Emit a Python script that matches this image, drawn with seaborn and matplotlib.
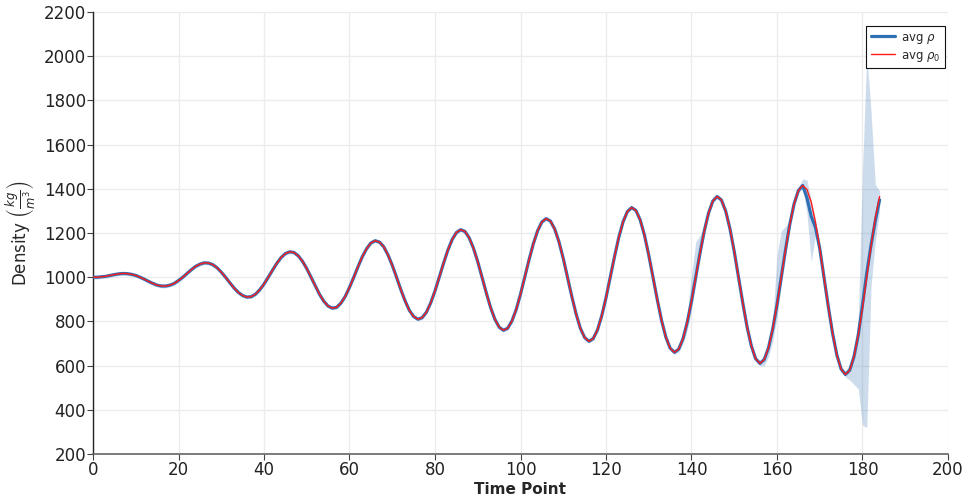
import numpy as np
import pandas as pd
import matplotlib
matplotlib.use("Agg")
import matplotlib.pyplot as plt
import seaborn as sns

# ---------------- data ----------------
time_points = list(range(0, 185))

avg_rho0 = [
    1000, 1000, 1002, 1004, 1008, 1012, 1015, 1017, 1016, 1013,
    1008, 1000, 991, 981, 972, 964, 960, 960, 964, 972,
    985, 1000, 1017, 1034, 1049, 1059, 1065, 1064, 1057, 1043,
    1023, 1000, 975, 951, 931, 917, 910, 912, 923, 943,
    969, 1000, 1032, 1063, 1089, 1107, 1115, 1112, 1097, 1072,
    1039, 1000, 960, 922, 891, 869, 860, 864, 883, 913,
    954, 1000, 1048, 1093, 1129, 1155, 1165, 1159, 1138, 1101,
    1054, 1000, 944, 893, 850, 822, 810, 817, 842, 884,
    938, 1000, 1063, 1122, 1170, 1202, 1215, 1207, 1178, 1131,
    1070, 1000, 929, 863, 810, 774, 760, 769, 802, 854,
    923, 1000, 1079, 1151, 1210, 1250, 1265, 1254, 1218, 1160,
    1085, 1000, 913, 834, 769, 727, 710, 722, 761, 825,
    907, 1000, 1094, 1181, 1251, 1297, 1315, 1302, 1259, 1190,
    1100, 1000, 898, 804, 729, 679, 660, 674, 721, 796,
    892, 1000, 1110, 1210, 1291, 1345, 1365, 1349, 1299, 1219,
    1116, 1000, 883, 775, 689, 631, 610, 627, 680, 766,
    876, 1000, 1125, 1240, 1332, 1392, 1415, 1397, 1340, 1248,
    1131, 1000, 867, 746, 648, 584, 560, 579, 640, 737,
    861, 1000, 1141, 1269, 1365,
]

avg_rho = [
    1000, 1000, 1002, 1004, 1008, 1012, 1015, 1017, 1016, 1013,
    1008, 1000, 991, 981, 972, 964, 960, 960, 964, 972,
    985, 1000, 1017, 1034, 1049, 1059, 1065, 1064, 1057, 1043,
    1023, 1000, 975, 951, 931, 917, 910, 912, 923, 943,
    969, 1000, 1032, 1063, 1089, 1107, 1115, 1112, 1097, 1072,
    1039, 1000, 960, 922, 891, 869, 860, 864, 883, 913,
    954, 1000, 1048, 1093, 1129, 1155, 1165, 1159, 1138, 1101,
    1054, 1000, 944, 893, 850, 822, 810, 817, 842, 884,
    938, 1000, 1063, 1122, 1170, 1202, 1215, 1207, 1178, 1131,
    1070, 1000, 929, 863, 810, 774, 760, 769, 802, 854,
    923, 1000, 1079, 1151, 1210, 1250, 1265, 1254, 1218, 1160,
    1085, 1000, 913, 834, 769, 727, 710, 722, 761, 825,
    907, 1000, 1094, 1181, 1251, 1297, 1315, 1302, 1259, 1190,
    1100, 1000, 898, 804, 729, 679, 660, 674, 721, 796,
    892, 1000, 1110, 1210, 1291, 1345, 1365, 1349, 1299, 1219,
    1116, 1000, 883, 775, 689, 631, 610, 627, 680, 766,
    876, 1000, 1125, 1240, 1332, 1392, 1415, 1360, 1275, 1225,
    1130, 1000, 867, 746, 648, 584, 560, 579, 640, 737,
    875, 1020, 1145, 1255, 1350,
]

# thin spread of the band over the calm part (t = 0 .. 135)
calm_spread = 8

# band bounds for t = 136 .. 184
tail_lower = [
    650, 662, 700, 760, 850, 975, 1095, 1198, 1282, 1337,
    1357, 1341, 1291, 1211, 1108, 992, 875, 767, 681, 623,
    598, 600, 640, 710, 820, 960, 1100, 1225, 1322, 1382,
    1400, 1290, 1070, 1190, 1110, 990, 858, 738, 640, 574,
    548, 535, 515, 495, 330, 320, 960, 1160, 1300,
]
tail_upper = [
    672, 690, 740, 830, 1010, 1160, 1190, 1225, 1302, 1355,
    1375, 1359, 1309, 1229, 1126, 1010, 893, 785, 699, 641,
    622, 645, 700, 800, 1100, 1210, 1230, 1258, 1345, 1405,
    1445, 1440, 1350, 1262, 1150, 1010, 877, 756, 658, 596,
    575, 600, 680, 800, 1480, 2010, 1750, 1420, 1390,
]

x_ticks = list(range(0, 201, 20))
y_ticks = list(range(200, 2201, 200))

# ---------------- build table ----------------
n_calm = len(time_points) - len(tail_lower)
band_lower = [v - calm_spread for v in avg_rho[:n_calm]] + tail_lower
band_upper = [v + calm_spread for v in avg_rho[:n_calm]] + tail_upper

df = pd.DataFrame({
    "t": time_points,
    "rho": avg_rho,
    "rho0": avg_rho0,
    "lo": band_lower,
    "hi": band_upper,
})

# ---------------- plot ----------------
sns.set_theme(style="white")
plt.rcParams["font.family"] = ["DejaVu Sans"]
plt.rcParams["mathtext.fontset"] = "dejavusans"

fig = plt.figure(figsize=(9.7, 5.04), dpi=100)
ax = fig.add_axes([93 / 970, 1 - 454 / 504, (948 - 93) / 970, (454 - 12) / 504])

blue = "#2f6fb3"
ax.fill_between(df["t"], df["lo"], df["hi"], color=blue, alpha=0.24,
                linewidth=0, zorder=1)
sns.lineplot(data=df, x="t", y="rho", ax=ax, color=blue, linewidth=2.3,
             label=r"avg $\rho$", zorder=3)
sns.lineplot(data=df, x="t", y="rho0", ax=ax, color="#ff1a1a", linewidth=1.0,
             label=r"avg $\rho_0$", zorder=4)

ax.set_xlim(0, 200)
ax.set_ylim(200, 2200)
ax.set_xticks(x_ticks)
ax.set_yticks(y_ticks)
ax.grid(True, color="#ececec", linewidth=1.0)
ax.set_axisbelow(True)

for side in ("top", "right"):
    ax.spines[side].set_visible(False)
ax.spines["left"].set_color("#222222")
ax.spines["bottom"].set_color("#666666")
ax.spines["left"].set_linewidth(1.0)
ax.spines["bottom"].set_linewidth(1.2)

ax.tick_params(axis="both", which="major", labelsize=12, length=4, width=0.8,
               color="#444444", labelcolor="#222222", pad=1, direction="out",
               bottom=True, left=True)

ax.set_xlabel("Time Point", fontsize=11, fontweight="bold", labelpad=2)
ax.set_ylabel(r"Density $\left(\frac{kg}{m^3}\right)$", fontsize=12, labelpad=4)

leg = ax.legend(loc="upper right", fontsize=8.5, frameon=True, fancybox=False,
                framealpha=1, edgecolor="#111111", borderpad=0.4,
                handlelength=2.0, handletextpad=0.5, labelspacing=0.25,
                bbox_to_anchor=(1.003, 0.982))
leg.get_frame().set_linewidth(0.8)

fig.savefig("out.png", dpi=100)
